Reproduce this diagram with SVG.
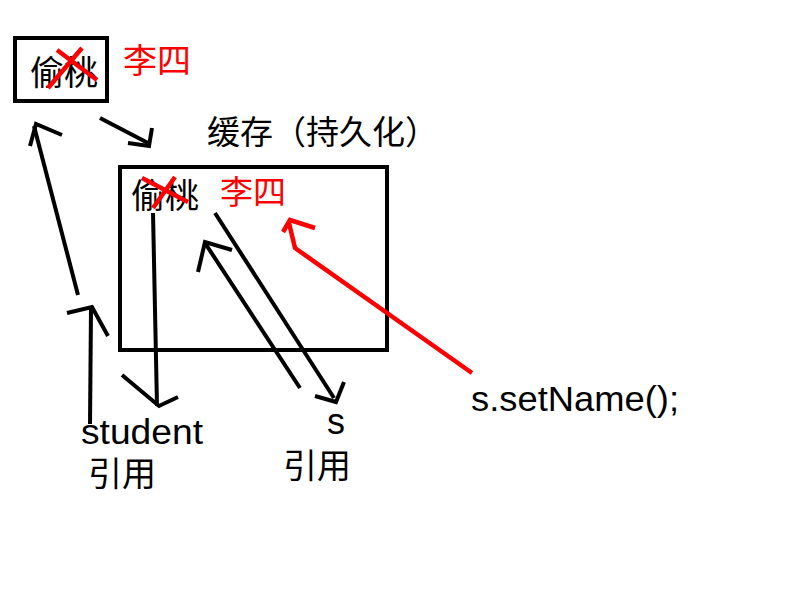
<svg xmlns="http://www.w3.org/2000/svg" width="800" height="600" viewBox="0 0 800 600">
<style>
.box{fill:none;stroke:#000;stroke-width:4}
.k{fill:none;stroke:#000;stroke-width:4;stroke-linecap:butt;stroke-linejoin:miter}
.r{fill:none;stroke:#f00;stroke-width:4.5;stroke-linejoin:miter}
.cn{font-family:"Noto Sans CJK SC","Noto Sans",sans-serif}
.en{font-family:"Liberation Sans","Noto Sans",sans-serif}
</style>
<rect width="800" height="600" fill="#fff"/>
<g id="node-original">
<rect class="box" x="15" y="38" width="92" height="63"/>
<text class="cn" x="30" y="85" font-size="34" fill="#000">偷桃</text>
<path class="r" d="M48,88 L82,48 M57,50 L97,80"/>
<text class="cn" x="123" y="73" font-size="34" fill="#f00">李四</text>
</g>
<g id="node-cache">
<text class="cn" x="207" y="144" font-size="33" fill="#000">缓存（持久化）</text>
<rect class="box" x="120" y="167" width="267" height="183"/>
<text class="cn" x="131" y="208" font-size="34" fill="#000">偷桃</text>
<path class="r" d="M153,208 L175,177 M142,178 L188,202"/>
<text class="cn" x="220" y="204" font-size="33" fill="#f00">李四</text>
</g>
<g id="node-student">
<text class="en" x="81" y="444" font-size="35" textLength="122" lengthAdjust="spacingAndGlyphs" fill="#000">student</text>
<text class="cn" x="88" y="486" font-size="34" fill="#000">引用</text>
</g>
<g id="node-s">
<text class="en" x="327" y="434" font-size="36" fill="#000">s</text>
<text class="cn" x="283" y="478" font-size="34" fill="#000">引用</text>
</g>
<g id="node-setname">
<text class="en" x="471" y="411" font-size="35" textLength="208" lengthAdjust="spacingAndGlyphs" fill="#000">s.setName();</text>
</g>
<g id="connectors">
<path class="k" d="M78,295 L34,126"/>
<path class="k" d="M30,146 L36,124 L62,135"/>
<path class="k" d="M100,118 L148,143"/>
<path class="k" d="M152,128 L149,146 L128,143"/>
<path class="k" d="M153,213 L157,406"/>
<path class="k" d="M122,375 L159,406 L178,397"/>
<path class="k" d="M90,424 L91,309"/>
<path class="k" d="M67,313 L92,307 L108,336"/>
<path class="k" d="M215,213 L334,398"/>
<path class="k" d="M315,396 L336,402 L344,382"/>
<path class="k" d="M300,388 L205,243"/>
<path class="k" d="M198,272 L205,242 L232,250"/>
<path class="r" d="M472,373 L295,248 L289,223"/>
<path class="r" d="M283,232 L290,220 L315,228"/>
</g>
</svg>
